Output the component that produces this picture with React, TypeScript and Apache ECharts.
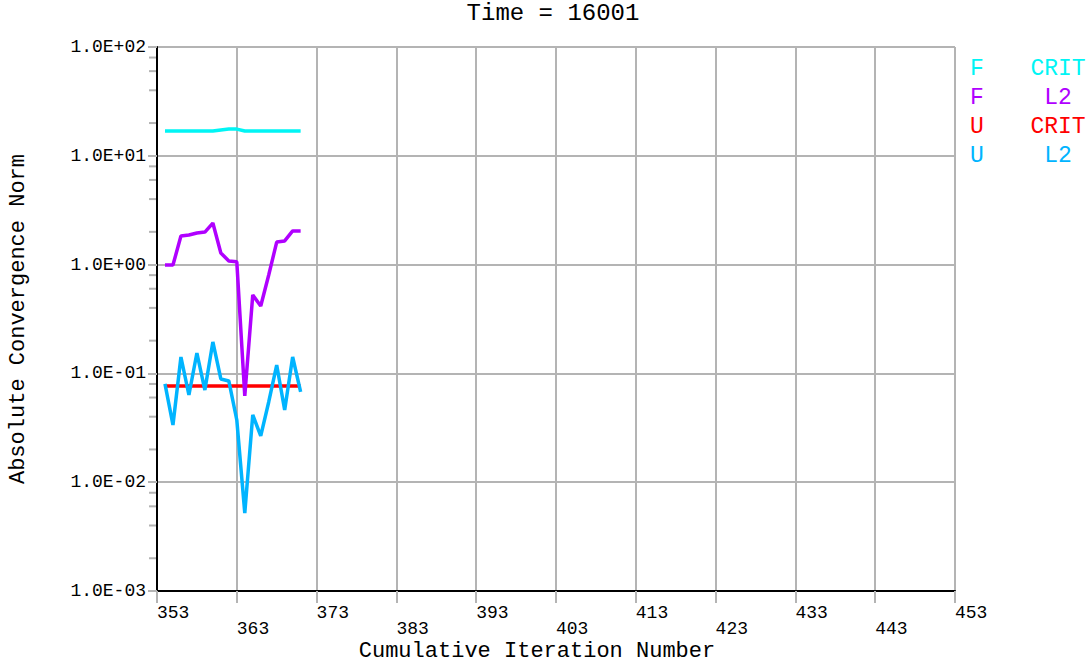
import React, { useEffect, useRef } from "react";
import * as echarts from "echarts";

const X_MIN = 353;
const X_MAX = 453;
const X_STEP = 10;
const Y_MIN = 0.001;
const Y_MAX = 100;

const iterations = [354, 355, 356, 357, 358, 359, 360, 361, 362, 363, 364, 365, 366, 367, 368, 369, 370, 371];
const fCrit = [16.9, 16.9, 16.9, 16.9, 16.9, 16.9, 16.9, 17.3, 17.6, 17.6, 16.9, 16.9, 16.9, 16.9, 16.9, 16.9, 16.9, 16.9];
const fL2 = [0.99, 0.99, 1.83, 1.87, 1.95, 1.99, 2.41, 1.28, 1.08, 1.06, 0.0621, 0.526, 0.416, 0.802, 1.61, 1.65, 2.04, 2.04];
const uCrit = [0.0766, 0.0766, 0.0766, 0.0766, 0.0766, 0.0766, 0.0766, 0.0766, 0.0766, 0.0766, 0.0766, 0.0766, 0.0766, 0.0766, 0.0766, 0.0766, 0.0766, 0.0766];
const uL2 = [0.08, 0.0336, 0.1415, 0.0633, 0.154, 0.0703, 0.1945, 0.0889, 0.0852, 0.0373, 0.00521, 0.0415, 0.0266, 0.0546, 0.1194, 0.0461, 0.1415, 0.0675];

const minorTickValues = [
  0.002, 0.004, 0.006, 0.008,
  0.02, 0.04, 0.06, 0.08,
  0.2, 0.4, 0.6, 0.8,
  2, 4, 6, 8,
  20, 40, 60, 80,
];

const legendRows = [
  { left: "F", right: "CRIT", color: "#00f5f5" },
  { left: "F", right: "L2", color: "#b000ff" },
  { left: "U", right: "CRIT", color: "#ff0000" },
  { left: "U", right: "L2", color: "#00b4ff" },
];

const titleText = "Time = 16001";
const xName = "Cumulative Iteration Number";
const yName = "Absolute Convergence Norm";

const FONT = "'Liberation Mono', 'Courier New', 'DejaVu Sans Mono', monospace";
const GRID_COLOR = "#b4b4b4";

function fmtExp(v: number): string {
  const e = Math.round(Math.log10(v));
  const sign = e < 0 ? "-" : "+";
  const a = Math.abs(e);
  return "1.0E" + sign + (a < 10 ? "0" + a : String(a));
}

function pairs(vals: number[]) {
  return iterations.map((it, i) => [it - X_MIN, vals[i]]);
}

export default function App() {
  const ref = useRef<HTMLDivElement>(null);
  useEffect(() => {
    if (!ref.current) return;
    const chart = echarts.init(ref.current, undefined, { renderer: "svg" });
    const lineSeries = (name: string, vals: number[], color: string, z: number) => ({
      type: "line",
      name,
      data: pairs(vals),
      showSymbol: false,
      symbol: "none",
      lineStyle: { color, width: 3.5 },
      itemStyle: { color },
      z,
    });
    const graphics: any[] = [
      {
        type: "text",
        x: 553,
        y: 13,
        style: { text: titleText, font: `24px ${FONT}`, fill: "#000", textAlign: "center", textVerticalAlign: "middle" },
      },
      {
        type: "text",
        x: 537,
        y: 651,
        style: { text: xName, font: `22px ${FONT}`, fill: "#000", textAlign: "center", textVerticalAlign: "middle" },
      },
    ];
    legendRows.forEach((r, i) => {
      const y = 69 + i * 29;
      graphics.push({
        type: "text",
        x: 970,
        y,
        style: { text: r.left, font: `23px ${FONT}`, fill: r.color, textAlign: "left", textVerticalAlign: "middle" },
      });
      graphics.push({
        type: "text",
        x: 1058,
        y,
        style: { text: r.right, font: `23px ${FONT}`, fill: r.color, textAlign: "center", textVerticalAlign: "middle" },
      });
    });

    chart.setOption({
      animation: false,
      backgroundColor: "#ffffff",
      grid: { left: 157, right: 134, top: 47, bottom: 73, containLabel: false, outerBoundsMode: "none" },
      xAxis: {
        type: "value",
        min: 0,
        max: X_MAX - X_MIN,
        interval: X_STEP,
        axisLine: { show: true, onZero: false, lineStyle: { color: "#000", width: 2 } },
        axisTick: { show: true, length: 12, lineStyle: { color: GRID_COLOR, width: 2 } },
        splitLine: { show: true, lineStyle: { color: GRID_COLOR, width: 2 } },
        axisLabel: {
          show: true,
          margin: 14,
          align: "left",
          color: "#000",
          fontFamily: FONT,
          fontSize: 18,
          lineHeight: 16,
          showMinLabel: true,
          showMaxLabel: true,
          formatter: (v: number, idx: number) => {
            const label = String(Math.round(v + X_MIN));
            return idx % 2 === 0 ? label : "\n" + label;
          },
        },
      },
      yAxis: {
        type: "log",
        logBase: 10,
        min: Y_MIN,
        max: Y_MAX,
        name: yName,
        nameLocation: "middle",
        nameGap: 128,
        nameRotate: 90,
        nameTextStyle: { color: "#000", fontFamily: FONT, fontSize: 22 },
        axisLine: { show: true, onZero: false, lineStyle: { color: "#000", width: 2 } },
        axisTick: { show: true, length: 9, lineStyle: { color: GRID_COLOR, width: 2 } },
        splitLine: { show: true, lineStyle: { color: GRID_COLOR, width: 2 } },
        axisLabel: {
          show: true,
          margin: 11,
          color: "#000",
          fontFamily: FONT,
          fontSize: 18,
          showMinLabel: true,
          showMaxLabel: true,
          formatter: (v: number) => fmtExp(v),
        },
      },
      series: [
        {
          type: "custom",
          name: "minorTicks",
          silent: true,
          clip: false,
          data: minorTickValues.map((v) => [0, v]),
          encode: { x: 0, y: 1 },
          renderItem: (params: any, api: any) => {
            const p = api.coord([0, api.value(1)]);
            return {
              type: "line",
              shape: { x1: p[0] - 8, y1: p[1], x2: p[0] - 1, y2: p[1] },
              style: { stroke: GRID_COLOR, lineWidth: 2 },
            };
          },
          z: 1,
        },
        lineSeries("F CRIT", fCrit, "#00f5f5", 3),
        lineSeries("U CRIT", uCrit, "#ff0000", 4),
        lineSeries("U L2", uL2, "#00b4ff", 5),
        lineSeries("F L2", fL2, "#b000ff", 6),
      ],
      graphic: graphics,
    });
    return () => chart.dispose();
  }, []);
  return (
    <div
      ref={ref}
      style={{ position: "fixed", left: 0, top: 0, width: 1089, height: 664, background: "#fff" }}
    />
  );
}
